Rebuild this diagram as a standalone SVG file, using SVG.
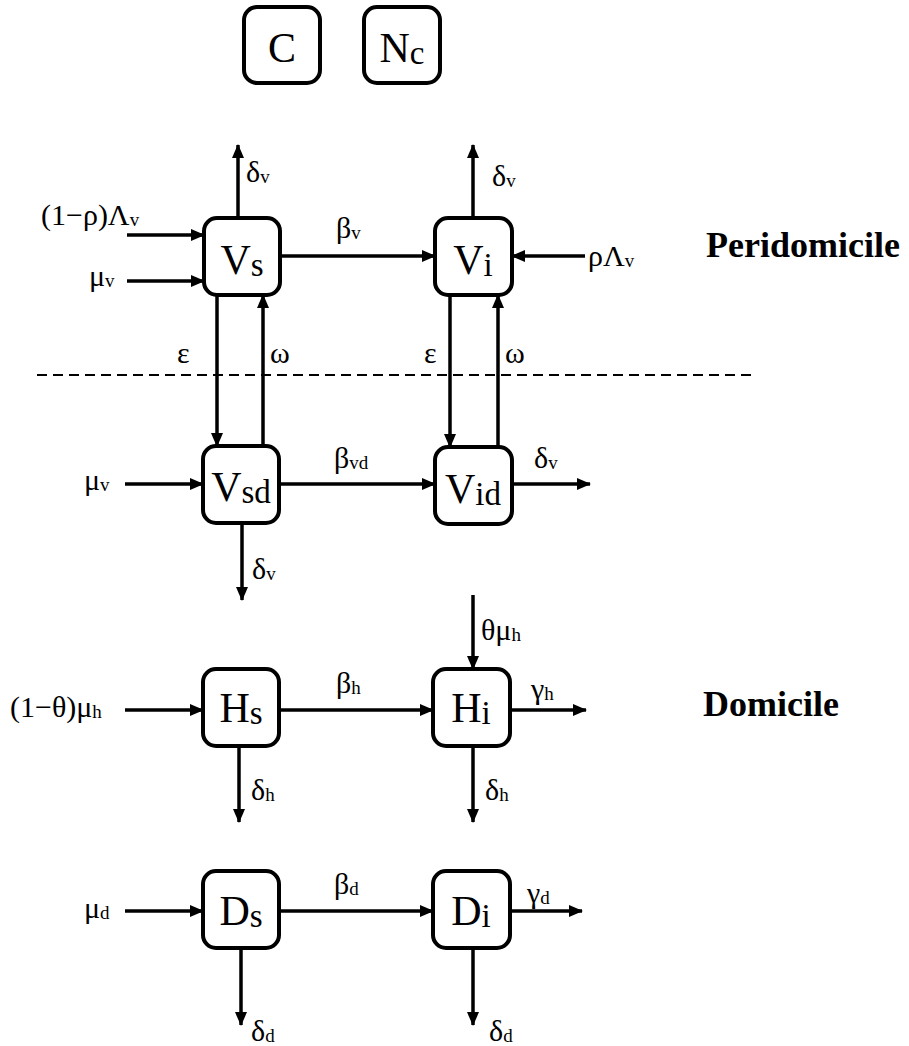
<svg xmlns="http://www.w3.org/2000/svg" width="909" height="1046" viewBox="0 0 909 1046" font-family="'Liberation Serif', 'DejaVu Serif', serif">
<style>
.box{fill:#fff;stroke:#000;stroke-width:4}
.nl{font-size:42px;fill:#000;text-anchor:middle}
.ns{font-size:33px}
.lbl{font-size:30px;fill:#000}
.sub{font-size:19px}
.ar{stroke:#000;stroke-width:3.5;fill:none;marker-end:url(#ah)}
.hd{font-size:36px;font-weight:bold;fill:#000}
</style>
<defs>
<marker id="ah" markerUnits="userSpaceOnUse" markerWidth="14" markerHeight="12" refX="13" refY="6" orient="auto">
<path d="M0,0 L14,6 L0,12 z" fill="#000"/>
</marker>
</defs>
<rect width="909" height="1046" fill="#fff"/>
<line x1="37" y1="375" x2="755" y2="375" stroke="#000" stroke-width="2" stroke-dasharray="10 6"/>
<g id="connectors">
<line class="ar" x1="238" y1="218" x2="238" y2="145"/>
<line class="ar" x1="473" y1="218" x2="473" y2="145"/>
<line class="ar" x1="127" y1="235" x2="204" y2="235"/>
<line class="ar" x1="127" y1="281" x2="204" y2="281"/>
<line class="ar" x1="280" y1="256" x2="435" y2="256"/>
<line class="ar" x1="585" y1="256" x2="512" y2="256"/>
<line class="ar" x1="217" y1="295" x2="217" y2="446"/>
<line class="ar" x1="263" y1="446" x2="263" y2="295"/>
<line class="ar" x1="450" y1="295" x2="450" y2="447"/>
<line class="ar" x1="498" y1="447" x2="498" y2="295"/>
<line class="ar" x1="125" y1="484" x2="203" y2="484"/>
<line class="ar" x1="279" y1="484" x2="435" y2="484"/>
<line class="ar" x1="511" y1="484" x2="590" y2="484"/>
<line class="ar" x1="242" y1="523" x2="242" y2="600"/>
<line class="ar" x1="473" y1="595" x2="473" y2="669"/>
<line class="ar" x1="125" y1="710" x2="203" y2="710"/>
<line class="ar" x1="279" y1="710" x2="433" y2="710"/>
<line class="ar" x1="509" y1="710" x2="586" y2="710"/>
<line class="ar" x1="239" y1="746" x2="239" y2="822"/>
<line class="ar" x1="473" y1="746" x2="473" y2="822"/>
<line class="ar" x1="125" y1="911" x2="203" y2="911"/>
<line class="ar" x1="279" y1="911" x2="433" y2="911"/>
<line class="ar" x1="509" y1="911" x2="582" y2="911"/>
<line class="ar" x1="241" y1="948" x2="241" y2="1025"/>
<line class="ar" x1="473" y1="948" x2="473" y2="1025"/>
</g>
<g id="edge-labels" font-family="'Liberation Serif', 'DejaVu Serif', serif">
<text class="lbl" x="246" y="182">δ<tspan class="sub" dy="1">v</tspan></text>
<text class="lbl" x="492" y="186">δ<tspan class="sub" dy="1">v</tspan></text>
<text class="lbl" x="41" y="225">(1−ρ)Λ<tspan class="sub" dy="1">v</tspan></text>
<text class="lbl" x="89" y="286">μ<tspan class="sub" dy="1">v</tspan></text>
<text class="lbl" x="336" y="238">β<tspan class="sub" dy="1">v</tspan></text>
<text class="lbl" x="588" y="266">ρΛ<tspan class="sub" dy="1">v</tspan></text>
<text class="lbl" x="177" y="363">ε</text>
<text class="lbl" x="270" y="363">ω</text>
<text class="lbl" x="424" y="363">ε</text>
<text class="lbl" x="505" y="363">ω</text>
<text class="lbl" x="84" y="490">μ<tspan class="sub" dy="1">v</tspan></text>
<text class="lbl" x="334" y="468">β<tspan class="sub" dy="1">vd</tspan></text>
<text class="lbl" x="534" y="468">δ<tspan class="sub" dy="1">v</tspan></text>
<text class="lbl" x="252" y="579">δ<tspan class="sub" dy="1">v</tspan></text>
<text class="lbl" x="481" y="640">θμ<tspan class="sub" dy="1">h</tspan></text>
<text class="lbl" x="10" y="717">(1−θ)μ<tspan class="sub" dy="1">h</tspan></text>
<text class="lbl" x="336" y="693">β<tspan class="sub" dy="1">h</tspan></text>
<text class="lbl" x="531" y="699">γ<tspan class="sub" dy="1">h</tspan></text>
<text class="lbl" x="251" y="800">δ<tspan class="sub" dy="1">h</tspan></text>
<text class="lbl" x="485" y="800">δ<tspan class="sub" dy="1">h</tspan></text>
<text class="lbl" x="84" y="918">μ<tspan class="sub" dy="1">d</tspan></text>
<text class="lbl" x="334" y="894">β<tspan class="sub" dy="1">d</tspan></text>
<text class="lbl" x="527" y="903">γ<tspan class="sub" dy="1">d</tspan></text>
<text class="lbl" x="251" y="1041">δ<tspan class="sub" dy="1">d</tspan></text>
<text class="lbl" x="489" y="1041">δ<tspan class="sub" dy="1">d</tspan></text>
</g>
<g id="C"><rect class="box" x="244" y="7" width="76" height="76" rx="13"/><text class="nl" x="282" y="62">C</text></g>
<g id="Nc"><rect class="box" x="364" y="7" width="76" height="76" rx="13"/><text class="nl" x="402" y="62">N<tspan class="ns" dy="2">c</tspan></text></g>
<g id="Vs"><rect class="box" x="204" y="218" width="76" height="77" rx="13"/><text class="nl" x="242" y="274">V<tspan class="ns" dy="2">s</tspan></text></g>
<g id="Vi"><rect class="box" x="435" y="218" width="77" height="77" rx="13"/><text class="nl" x="473" y="274">V<tspan class="ns" dy="2">i</tspan></text></g>
<g id="Vsd"><rect class="box" x="203" y="446" width="76" height="77" rx="13"/><text class="nl" x="241" y="501">V<tspan class="ns" dy="2">sd</tspan></text></g>
<g id="Vid"><rect class="box" x="435" y="447" width="77" height="77" rx="13"/><text class="nl" x="473" y="503">V<tspan class="ns" dy="2">id</tspan></text></g>
<g id="Hs"><rect class="box" x="203" y="669" width="76" height="77" rx="13"/><text class="nl" x="241" y="722">H<tspan class="ns" dy="2">s</tspan></text></g>
<g id="Hi"><rect class="box" x="433" y="669" width="77" height="77" rx="13"/><text class="nl" x="471" y="722">H<tspan class="ns" dy="2">i</tspan></text></g>
<g id="Ds"><rect class="box" x="203" y="871" width="76" height="77" rx="13"/><text class="nl" x="241" y="925">D<tspan class="ns" dy="2">s</tspan></text></g>
<g id="Di"><rect class="box" x="433" y="871" width="77" height="77" rx="13"/><text class="nl" x="471" y="925">D<tspan class="ns" dy="2">i</tspan></text></g>
<g id="headings" font-family="'Liberation Serif', serif">
<text class="hd" x="706" y="257">Peridomicile</text>
<text class="hd" x="703" y="716">Domicile</text>
</g>
</svg>
